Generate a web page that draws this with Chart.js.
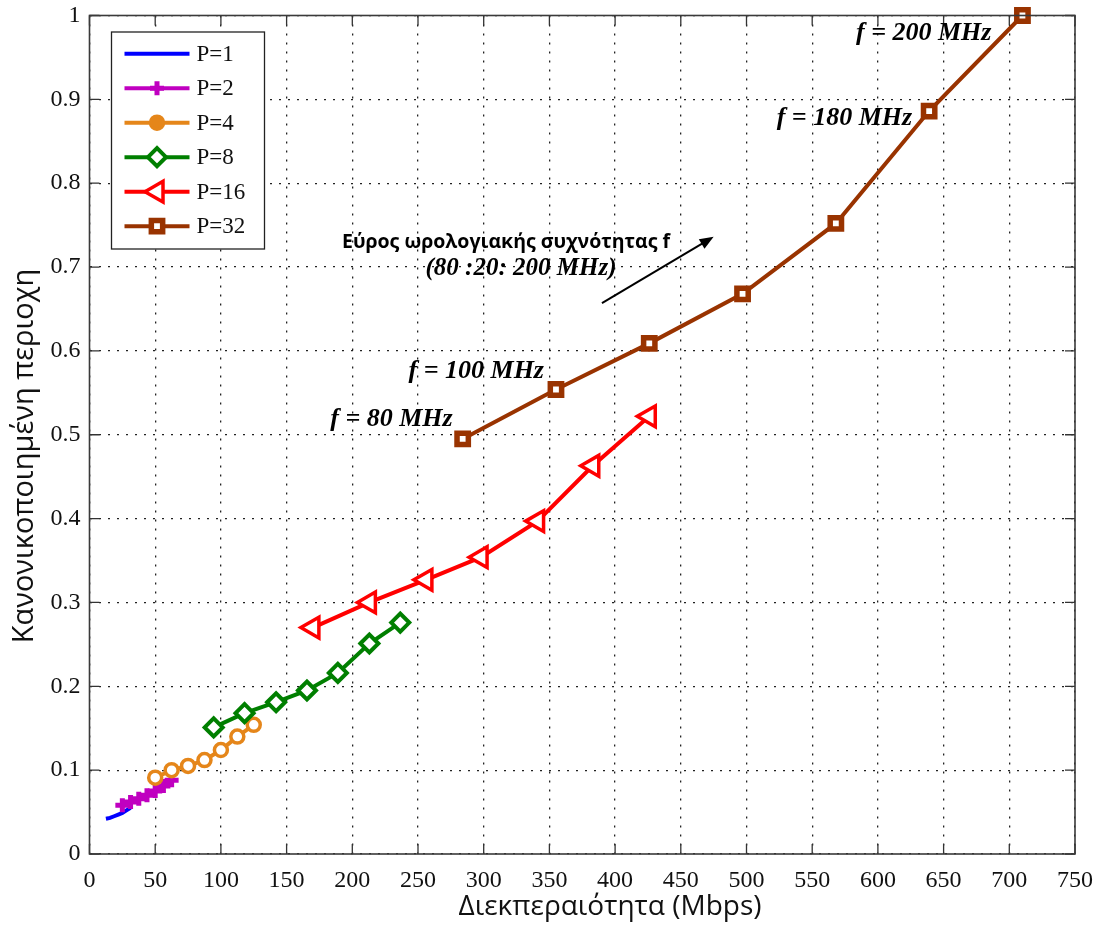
<!DOCTYPE html>
<html>
<head>
<meta charset="utf-8">
<script src="https://cdn.jsdelivr.net/npm/chart.js@4.4.0/dist/chart.umd.min.js"></script>
<style>
  html, body { margin: 0; padding: 0; background: #fff; }
  #wrap { width: 1100px; height: 929px; }
</style>
</head>
<body>
<div id="wrap"><canvas id="areaChart" width="1100" height="929"></canvas></div>
<script>
// Throughput (Mbps) vs normalised area, clock f = 80:20:200 MHz for each P
const p1X = [12.5, 15.6, 18.75, 21.9, 25, 28.1, 31.25];
const p1Y = [0.042, 0.043, 0.045, 0.047, 0.049, 0.052, 0.055];
const p2X = [25, 31.25, 37.5, 43.75, 50, 56.25, 62.5];
const p2Y = [0.058, 0.062, 0.066, 0.070, 0.075, 0.081, 0.088];
const p4X = [50, 62.5, 75, 87.5, 100, 112.5, 125];
const p4Y = [0.091, 0.100, 0.105, 0.112, 0.124, 0.140, 0.154];
const p8X = [94.5, 118, 142, 165.5, 189, 213, 236.5];
const p8Y = [0.151, 0.168, 0.181, 0.195, 0.216, 0.251, 0.276];
const p16X = [170, 213, 256, 298, 341, 383, 426];
const p16Y = [0.270, 0.300, 0.327, 0.354, 0.397, 0.463, 0.522];
const p32X = [284, 355, 426, 497, 568, 639, 710];
const p32Y = [0.495, 0.554, 0.609, 0.668, 0.752, 0.886, 1.0];

const seriesLabels = ['P=1', 'P=2', 'P=4', 'P=8', 'P=16', 'P=32'];
const xTicks = [0, 50, 100, 150, 200, 250, 300, 350, 400, 450, 500, 550, 600, 650, 700, 750];
const yTicks = [0, 0.1, 0.2, 0.3, 0.4, 0.5, 0.6, 0.7, 0.8, 0.9, 1];

const xTitle = 'Διεκπεραιότητα (Mbps)';
const yTitle = 'Κανονικοποιημένη περιοχη';
const freqLabels = ['f = 80 MHz', 'f = 100 MHz', 'f = 180 MHz', 'f = 200 MHz'];
const freqLabelIdx = [0, 1, 5, 6];     // which P=32 point each label belongs to
const rangeText1 = 'Εύρος ωρολογιακής συχνότητας f';
const rangeText2 = '(80 :20: 200 MHz)';
const arrowFrom = [390, 0.657];
const arrowTo = [475, 0.736];

const pts = (xs, ys) => xs.map((x, i) => ({ x: x, y: ys[i] }));

const styles = [
    { color: '#0000FF', pointStyle: 'circle', radius: 0, bw: 0 },
    { color: '#C000C0', pointStyle: 'cross', radius: 7, bw: 5 },
    { color: '#E5861A', pointStyle: 'circle', radius: 6.5, bw: 3.5 },
    { color: '#007F00', pointStyle: 'rectRot', radius: 9, bw: 4 },
    { color: '#FF0000', pointStyle: 'triangle', radius: 12, bw: 3.5, rot: -90 },
    { color: '#993300', pointStyle: 'rect', radius: 8, bw: 5.5 }
];
const seriesData = [pts(p1X, p1Y), pts(p2X, p2Y), pts(p4X, p4Y), pts(p8X, p8Y), pts(p16X, p16Y), pts(p32X, p32Y)];

const datasets = seriesLabels.map((label, i) => ({
    label: label,
    data: seriesData[i],
    borderColor: styles[i].color,
    backgroundColor: '#FFFFFF',
    borderWidth: 4,
    pointStyle: styles[i].pointStyle,
    pointRadius: styles[i].radius,
    pointHoverRadius: styles[i].radius,
    pointBorderWidth: styles[i].bw,
    pointBorderColor: styles[i].color,
    pointBackgroundColor: '#FFFFFF',
    pointRotation: styles[i].rot || 0,
    tension: 0,
    clip: false,
    order: 5 - i
}));

const SERIF = "'Liberation Serif', 'Times New Roman', serif";
const SANS = "'Open Sans', 'Noto Sans', sans-serif";

// frame, inner ticks, legend, axis titles and annotations
const decorPlugin = {
    id: 'decor',
    afterDatasetsDraw(chart) {
        const ctx = chart.ctx;
        const a = chart.chartArea;
        const xs = chart.scales.x, ys = chart.scales.y;

        ctx.save();
        // inner tick marks (all four sides)
        ctx.strokeStyle = '#333';
        ctx.lineWidth = 1.3;
        ctx.beginPath();
        xTicks.forEach(v => {
            const px = xs.getPixelForValue(v);
            ctx.moveTo(px, a.bottom); ctx.lineTo(px, a.bottom - 10);
            ctx.moveTo(px, a.top); ctx.lineTo(px, a.top + 10);
        });
        yTicks.forEach(v => {
            const py = ys.getPixelForValue(v);
            ctx.moveTo(a.left, py); ctx.lineTo(a.left + 10, py);
            ctx.moveTo(a.right, py); ctx.lineTo(a.right - 10, py);
        });
        ctx.stroke();
        // axes box
        ctx.lineWidth = 1.6;
        ctx.strokeStyle = '#3a3a3a';
        ctx.strokeRect(a.left, a.top, a.right - a.left, a.bottom - a.top);

        // frequency labels next to the P=32 markers
        const meta32 = chart.getDatasetMeta(5);
        const offs = [[-10, -20], [-12, -18], [-17, 7], [-31, 18]];
        ctx.fillStyle = '#000';
        ctx.font = "italic bold 26px " + SERIF;
        ctx.textAlign = 'right';
        ctx.textBaseline = 'middle';
        freqLabels.forEach((t, k) => {
            const el = meta32.data[freqLabelIdx[k]];
            ctx.fillText(t, el.x + offs[k][0], el.y + offs[k][1]);
        });

        // clock range note and arrow
        ctx.textAlign = 'center';
        ctx.font = "bold 19.5px " + SANS;
        ctx.fillText(rangeText1, 506, 242);
        ctx.font = "italic bold 25px " + SERIF;
        ctx.fillText(rangeText2, 521, 269);

        const x0 = xs.getPixelForValue(arrowFrom[0]), y0 = ys.getPixelForValue(arrowFrom[1]);
        const x1 = xs.getPixelForValue(arrowTo[0]), y1 = ys.getPixelForValue(arrowTo[1]);
        const ang = Math.atan2(y1 - y0, x1 - x0);
        ctx.strokeStyle = '#000';
        ctx.lineWidth = 2;
        ctx.beginPath();
        ctx.moveTo(x0, y0);
        ctx.lineTo(x1 - 10 * Math.cos(ang), y1 - 10 * Math.sin(ang));
        ctx.stroke();
        ctx.beginPath();
        ctx.moveTo(x1, y1);
        ctx.lineTo(x1 - 15 * Math.cos(ang - 0.38), y1 - 15 * Math.sin(ang - 0.38));
        ctx.lineTo(x1 - 15 * Math.cos(ang + 0.38), y1 - 15 * Math.sin(ang + 0.38));
        ctx.closePath();
        ctx.fill();

        // legend box
        const lx = a.left + 22, ly = a.top + 16.5, lw = 153, lh = 217;
        ctx.fillStyle = '#FFFFFF';
        ctx.fillRect(lx, ly, lw, lh);
        ctx.strokeStyle = '#222';
        ctx.lineWidth = 1.3;
        ctx.strokeRect(lx, ly, lw, lh);
        seriesLabels.forEach((label, i) => {
            const ry = ly + 21.7 + i * 34.5;
            const s = styles[i];
            ctx.strokeStyle = s.color;
            ctx.lineWidth = 4;
            ctx.beginPath();
            ctx.moveTo(lx + 13, ry); ctx.lineTo(lx + 78, ry);
            ctx.stroke();
            if (s.radius > 0) {
                ctx.fillStyle = i === 2 ? s.color : '#FFFFFF';
                ctx.lineWidth = s.bw;
                Chart.helpers.drawPoint(ctx, {
                    pointStyle: s.pointStyle, radius: s.radius,
                    rotation: s.rot || 0, borderWidth: s.bw
                }, lx + 45.5, ry);
            }
            ctx.fillStyle = '#111';
            ctx.font = "23px " + SERIF;
            ctx.textAlign = 'left';
            ctx.textBaseline = 'middle';
            ctx.fillText(label, lx + 85, ry + 1);
        });

        // axis titles
        ctx.fillStyle = '#111';
        ctx.font = "28px " + SANS;
        ctx.textAlign = 'center';
        ctx.textBaseline = 'middle';
        ctx.fillText(xTitle, 610, 907);
        ctx.font = "29px " + SANS;
        ctx.translate(25, 456);
        ctx.rotate(-Math.PI / 2);
        ctx.fillText(yTitle, 0, 0);
        ctx.restore();
    }
};

new Chart(document.getElementById('areaChart').getContext('2d'), {
    type: 'line',
    data: { datasets: datasets },
    plugins: [decorPlugin],
    options: {
        responsive: false,
        animation: false,
        events: [],
        layout: { padding: { left: 0, right: 25, top: 13.5, bottom: 0 } },
        plugins: { legend: { display: false }, tooltip: { enabled: false } },
        scales: {
            x: {
                type: 'linear',
                min: 0, max: 750,
                afterBuildTicks: s => { s.ticks = xTicks.map(v => ({ value: v })); },
                afterFit: s => { s.height = 75; s.paddingLeft = 0; s.paddingRight = 0; },
                grid: { color: '#222', lineWidth: 1.3, drawTicks: false },
                border: { display: false, dash: [2, 7] },
                ticks: {
                    padding: 12,
                    maxRotation: 0,
                    color: '#111',
                    font: { family: SERIF, size: 24 }
                }
            },
            y: {
                min: 0, max: 1,
                afterBuildTicks: s => { s.ticks = yTicks.map(v => ({ value: v })); },
                afterFit: s => { s.width = 89.5; s.paddingTop = 0; s.paddingBottom = 0; },
                grid: { color: '#222', lineWidth: 1.3, drawTicks: false },
                border: { display: false, dash: [2, 7] },
                ticks: {
                    padding: 9,
                    color: '#111',
                    font: { family: SERIF, size: 24 },
                    callback: v => String(Math.round(v * 10) / 10)
                }
            }
        }
    }
});
</script>
</body>
</html>
